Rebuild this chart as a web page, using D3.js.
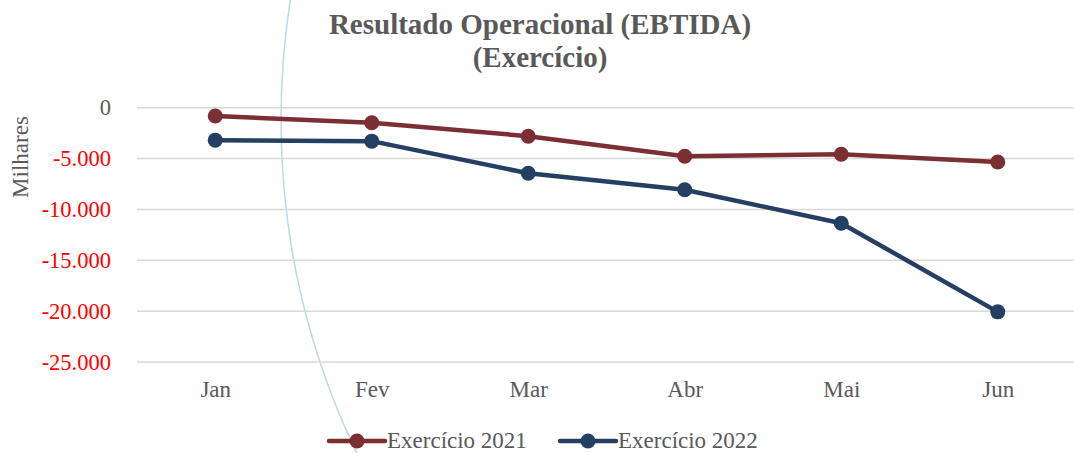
<!DOCTYPE html>
<html><head><meta charset="utf-8">
<script src="https://cdn.jsdelivr.net/npm/d3@7"></script>
<style>body{margin:0;background:#fff}svg{display:block}
svg text{font-family:"Liberation Serif","Times New Roman",Times,serif;}</style>
</head><body>
<svg id="c" width="1074" height="453"></svg>
<script>
const categories = ["Jan","Fev","Mar","Abr","Mai","Jun"];
const series2021 = [-820,-1480,-2800,-4770,-4575,-5340];
const series2022 = [-3190,-3290,-6450,-8060,-11360,-20070];
const yTicks = [0,-5000,-10000,-15000,-20000,-25000];
const seriesNames = ["Exercício 2021","Exercício 2022"];
const colors = ["#7b2f33","#243f61"];

const svg = d3.select("#c");

// decorative arc
svg.append("circle").attr("cx",1051).attr("cy",120).attr("r",770)
  .attr("fill","none").attr("stroke","#bcd9e6").attr("stroke-width",1.5);

const x = d3.scalePoint().domain(categories).range([137,1076]).padding(0.5);
const y = d3.scaleLinear().domain([-25000,0]).range([362,107.7]);

const fmt = v => v===0 ? "0" : d3.format(",")(v).replace(/,/g,".").replace("−","-");

// gridlines
svg.append("g").selectAll("line").data(yTicks).join("line")
  .attr("x1",137).attr("x2",1074).attr("y1",d=>y(d)).attr("y2",d=>y(d))
  .attr("stroke","#d9d9d9").attr("stroke-width",1.5);

// y axis labels
const yAxis = d3.axisLeft(y).tickValues(yTicks).tickSize(0).tickPadding(0).tickFormat(fmt);
const gy = svg.append("g").attr("transform","translate(111,0)").call(yAxis);
gy.select(".domain").remove();
gy.attr("font-family",null);
gy.selectAll("text").style("font-size","22.5px")
  .attr("fill",d=>d<0?"#ff0000":"#595959");

// x axis labels
const xAxis = d3.axisBottom(x).tickSize(0).tickPadding(0);
const gx = svg.append("g").attr("transform","translate(0,381)").call(xAxis);
gx.select(".domain").remove();
gx.attr("font-family",null);
gx.selectAll("text").style("font-size","23px").attr("fill","#595959");

// y title
svg.append("text").attr("transform","translate(28,157) rotate(-90)")
  .attr("text-anchor","middle").style("font-size","23px")
  .attr("fill","#595959").text("Milhares");

// title
const t = svg.append("text").attr("text-anchor","middle")
  .style("font-size","29px").style("font-weight","bold").attr("fill","#595959");
t.append("tspan").attr("x",540).attr("y",33.5).text("Resultado Operacional (EBTIDA)");
t.append("tspan").attr("x",540).attr("y",67).text("(Exercício)");

// lines
const line = d3.line().x((d,i)=>x(categories[i])).y(d=>y(d));
[series2021,series2022].forEach((s,k)=>{
  svg.append("path").datum(s).attr("d",line).attr("fill","none")
    .attr("stroke",colors[k]).attr("stroke-width",4.5).attr("stroke-linejoin","round").attr("stroke-linecap","round");
  svg.append("g").selectAll("circle").data(s).join("circle")
    .attr("cx",(d,i)=>x(categories[i])).attr("cy",d=>y(d)).attr("r",7.5).attr("fill",colors[k]);
});

// legend
const legX = [329,560];
seriesNames.forEach((n,k)=>{
  const g = svg.append("g").attr("transform",`translate(${legX[k]},441)`);
  g.append("line").attr("x1",0).attr("x2",56).attr("stroke",colors[k]).attr("stroke-width",4.5).attr("stroke-linecap","round");
  g.append("circle").attr("cx",28).attr("r",7.5).attr("fill",colors[k]);
  g.append("text").attr("x",58).attr("y",7).style("font-size","23px")
    .attr("fill","#595959").text(n);
});
</script>
</body></html>
